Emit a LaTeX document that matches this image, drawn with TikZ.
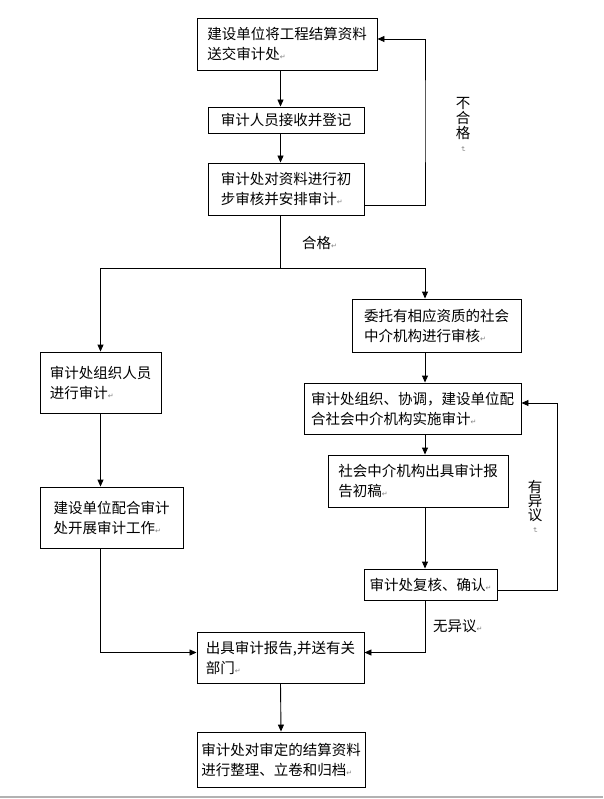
\documentclass[tikz,border=0pt]{standalone}
\usepackage{fontspec}
\setmainfont{Noto Sans CJK SC}
\newfontfamily\retfont{DejaVu Sans}
\usetikzlibrary{arrows.meta, positioning}

\newcommand{\pmark}{{\retfont\fontsize{7}{7}\selectfont\textcolor{gray}{↵}}}

\tikzset{
  stepbox/.style={draw, line width=0.9pt, align=left, inner xsep=9pt, inner ysep=4pt,
    font=\fontsize{14.5}{20}\selectfont},
  flow/.style={line width=0.9pt, -{Triangle[length=7pt, width=6pt]}},
  link/.style={line width=0.9pt},
  note/.style={inner sep=0pt, font=\fontsize{14.5}{20}\selectfont},
}

\begin{document}
\begin{tikzpicture}[x=1pt, y=-1pt]
  \useasboundingbox (0,0) rectangle (603,799);
  \draw[gray!60, line width=1.2pt] (0,797) -- (603,797);

  % top column
  \node[stepbox, minimum width=180pt, minimum height=52pt] (songjiao) at (287,44) {建设单位将工程结算资料\\送交审计处\pmark};
  \node[stepbox, minimum width=156pt, minimum height=26pt] (dengji) at (286,120) {审计人员接收并登记};
  \node[stepbox, minimum width=156pt, minimum height=52pt] (chushen) at (286,189) {审计处对资料进行初\\步审核并安排审计\pmark};

  % left branch
  \node[stepbox, minimum width=121pt, minimum height=61pt] (zuzhi) at (100.5,382.5) {审计处组织人员\\进行审计\pmark};
  \node[stepbox, minimum width=143pt, minimum height=61pt] (peihe) at (111.5,517.5) {建设单位配合审计\\处开展审计工作\pmark};

  % right branch
  \node[stepbox, minimum width=169pt, minimum height=53pt] (weituo) at (436.5,325.5) {委托有相应资质的社会\\中介机构进行审核\pmark};
  \node[stepbox, inner xsep=6pt, minimum width=217pt, minimum height=51pt] (xietiao) at (412.5,408.5) {审计处组织、协调，建设单位配\\合社会中介机构实施审计\pmark};
  \node[stepbox, minimum width=180pt, minimum height=52pt] (chugao) at (418,481) {社会中介机构出具审计报\\告初稿\pmark};
  \node[stepbox, inner xsep=5pt, minimum width=133pt, minimum height=31pt] (fuhe) at (430.5,584.5) {审计处复核、确认\pmark};

  % bottom
  \node[stepbox, minimum width=167pt, minimum height=51pt] (baogao) at (280.5,657.5) {出具审计报告,并送有关\\部门\pmark};
  \node[stepbox, inner xsep=4pt, minimum width=168pt, minimum height=55pt] (guidang) at (281,759.5) {审计处对审定的结算资料\\进行整理、立卷和归档\pmark};

  % labels
  \node[note, align=center, font=\fontsize{14.5}{15}\selectfont] (buhege) at (463,125) {不\\合\\格\\[-7pt]\rotatebox{-90}{\pmark}};
  \node[note, anchor=west] (hegetxt) at (302,243) {合格\pmark};
  \node[note, align=center, font=\fontsize{14.5}{14}\selectfont] (youyiyi) at (535,507) {有\\异\\议\\[-7pt]\rotatebox{-90}{\pmark}};
  \node[note, anchor=west] (wuyiyi) at (433,626) {无异议\pmark};

  \coordinate (hege) at (280.5,268);
  \coordinate (rcol) at (425,268);
  \coordinate (bhg) at (425,120);
  \coordinate (yyy) at (557,500);

  \draw[flow] (songjiao.south -| hege) -- (dengji.north -| hege);
  \draw[flow] (dengji.south -| hege) -- (chushen.north -| hege);
  \draw[flow] ([yshift=-16pt]chushen.east) -| (bhg) |- ([yshift=5pt]songjiao.east);
  \draw[link] (chushen.south -| hege) -- (hege) -- (rcol);
  \draw[flow] (hege) -| (zuzhi.north);
  \draw[flow] (rcol) -- (weituo.north -| rcol);
  \draw[flow] (zuzhi.south) -- (peihe.north -| zuzhi);
  \draw[flow] (peihe.south -| zuzhi) |- ([yshift=5pt]baogao.west);
  \draw[flow] (weituo.south -| rcol) -- (xietiao.north -| rcol);
  \draw[flow] (xietiao.south -| rcol) -- (chugao.north -| rcol);
  \draw[flow] (chugao.south -| rcol) -- (fuhe.north -| rcol);
  \draw[flow] ([yshift=-5.5pt]fuhe.east) -| (yyy) |- ([yshift=5.5pt]xietiao.east);
  \draw[flow] (fuhe.south -| rcol) |- ([yshift=5pt]baogao.east);
  \draw[flow] (baogao.south) -- (guidang.north);
\end{tikzpicture}
\end{document}
